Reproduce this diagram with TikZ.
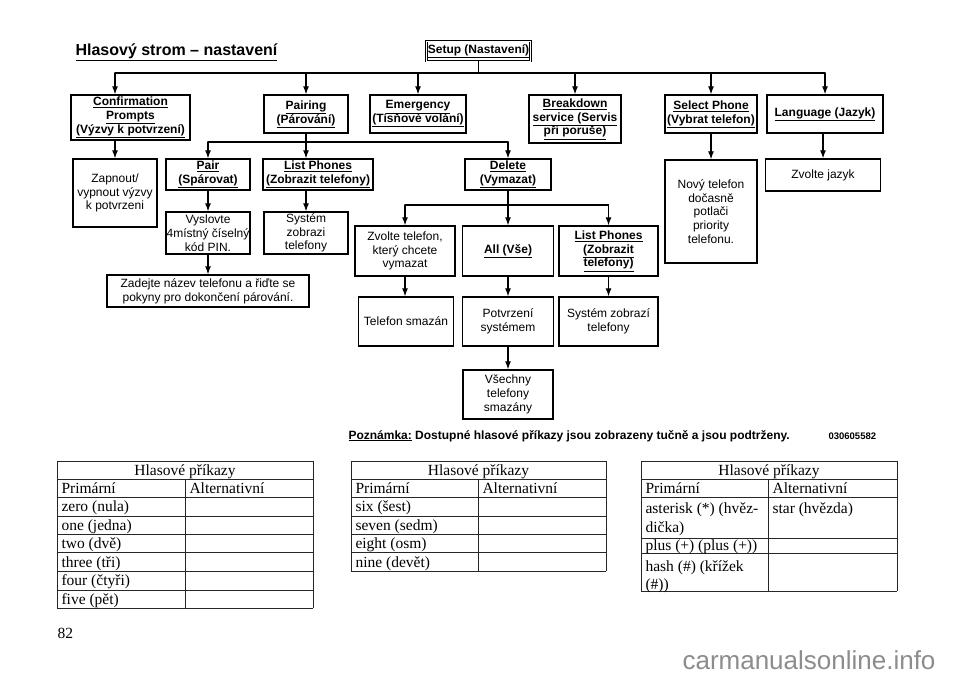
\documentclass[tikz,border=0pt]{standalone}
\usepackage{fontspec}
\newfontfamily\arialfont{Liberation Sans}
\newfontfamily\tablefont{Liberation Serif}
\usetikzlibrary{arrows.meta}

\begin{document}
\begin{tikzpicture}[%
        x = 1pt, y = -1pt,
        line width = 1.1pt,
        line cap = round,
        box/.style = {draw, line width = 1.4pt, line cap = butt, align = center,
            inner sep = 0pt, font = \arialfont\fontsize{12}{13.8}\selectfont},
        cmd/.style = {box, font = \arialfont\bfseries\fontsize{12}{13.8}\selectfont},
        link/.style = {-{Latex[length = 8pt, width = 6pt]}},
        cell/.style = {anchor = base west, inner sep = 0pt,
            font = \tablefont\fontsize{15.5}{19}\selectfont},
        rule/.style = {line width = 0.8pt, line cap = butt, black!85}
    ]
        \useasboundingbox (0, 0) rectangle (960, 678);

        % Title of the page.
        \node[anchor = base west, inner sep = 0pt,
            font = \arialfont\bfseries\fontsize{16}{18}\selectfont]
            (Title) at (75, 55) {\underline{Hlasový strom – nastavení}};

        % Root of the tree.
        \node[cmd, double, double distance = 1pt, line width = 0.6pt,
            minimum width = 104, minimum height = 20]
            (Setup) at (478.5, 51) {\underline{Setup (Nastavení)}};

        % First level of commands.
        \node[cmd, minimum width = 119, minimum height = 45] (Confirm) at (130.5, 117.5)
            {\underline{Confirmation}\\\underline{Prompts}\\\underline{(Výzvy k potvrzení)}};
        \node[cmd, minimum width = 84, minimum height = 38] (Pairing) at (306, 114)
            {\underline{Pairing}\\\underline{(Párování)}};
        \node[cmd, minimum width = 96, minimum height = 38] (Emergency) at (418, 114)
            {\underline{Emergency}\\\underline{(Tísňové volání)}};
        \node[cmd, minimum width = 92, minimum height = 48] (Breakdown) at (575, 119)
            {\underline{Breakdown}\\\underline{service (Servis}\\\underline{při poruše)}};
        \node[cmd, minimum width = 92, minimum height = 38] (Select) at (711, 114)
            {\underline{Select Phone}\\\underline{(Vybrat telefon)}};
        \node[cmd, minimum width = 116, minimum height = 38] (Language) at (825, 114)
            {\underline{Language (Jazyk)}};

        % Second level.
        \node[box, minimum width = 84, minimum height = 68] (Zapnout) at (115, 193)
            {Zapnout/\\vypnout výzvy\\k potvrzeni};
        \node[cmd, minimum width = 84, minimum height = 31] (Pair) at (208, 174.5)
            {\underline{Pair}\\\underline{(Spárovat)}};
        \node[cmd, minimum width = 110, minimum height = 31] (List_Phones) at (318, 174.5)
            {\underline{List Phones}\\\underline{(Zobrazit telefony)}};
        \node[cmd, minimum width = 86, minimum height = 31] (Delete) at (508, 174.5)
            {\underline{Delete}\\\underline{(Vymazat)}};
        \node[box, minimum width = 92, minimum height = 103] (New_Phone) at (711, 211.5)
            {Nový telefon\\dočasně\\potlači\\priority\\telefonu.};
        \node[box, minimum width = 115, minimum height = 32] (Choose_Lang) at (823, 175)
            {Zvolte jazyk};

        % Pairing branch.
        \node[box, minimum width = 84, minimum height = 42] (Say_PIN) at (208, 233)
            {Vyslovte\\4místný číselný\\kód PIN.};
        \node[box, minimum width = 84, minimum height = 42] (Shows_List) at (306, 233)
            {Systém\\zobrazi\\telefony};
        \node[box, minimum width = 202, minimum height = 32] (Enter_Name) at (208, 291)
            {Zadejte název telefonu a řiďte se\\pokyny pro dokončení párování.};

        % Delete branch.
        \node[box, minimum width = 100, minimum height = 50] (Choose_Phone) at (405, 251)
            {Zvolte telefon,\\který chcete\\vymazat};
        \node[cmd, minimum width = 91, minimum height = 50] (All) at (508, 251)
            {\underline{All (Vše)}};
        \node[cmd, minimum width = 99, minimum height = 50] (List_Del) at (608.5, 251)
            {\underline{List Phones}\\\underline{(Zobrazit}\\\underline{telefony)}};
        \node[box, minimum width = 95, minimum height = 49] (Deleted) at (406, 321.5)
            {Telefon smazán};
        \node[box, minimum width = 91, minimum height = 49] (Confirmed) at (508, 321.5)
            {Potvrzení\\systémem};
        \node[box, minimum width = 99, minimum height = 49] (Shows_Del) at (608.5, 321.5)
            {Systém zobrazí\\telefony};
        \node[box, minimum width = 90, minimum height = 49] (All_Deleted) at (508, 394.5)
            {Všechny\\telefony\\smazány};

        % Bus lines of the tree.
        \coordinate (Top_Bus) at (478.5, 73);
        \coordinate (Pair_Bus) at (306, 142);
        \coordinate (Delete_Bus) at (508, 205);

        % Connectors from the root.
        \draw (Setup) -- (Top_Bus);
        \draw (Top_Bus -| Zapnout) -- (Top_Bus -| Language);
        \draw[link] (Top_Bus -| Zapnout) -- (Confirm.north -| Zapnout);
        \draw[link] (Top_Bus -| Pairing) -- (Pairing.north);
        \draw[link] (Top_Bus -| Emergency) -- (Emergency.north);
        \draw[link] (Top_Bus -| Breakdown) -- (Breakdown.north);
        \draw[link] (Top_Bus -| Select) -- (Select.north);
        \draw[link] (Top_Bus -| Language) -- (Language.north);

        % Connectors below the first level.
        \draw[link] (Confirm.south -| Zapnout) -- (Zapnout.north);
        \draw[link] (Select) -- (New_Phone);
        \draw[link] (Language.south -| Choose_Lang) -- (Choose_Lang.north);

        % Pairing branch.
        \draw (Pairing) -- (Pair_Bus);
        \draw (Pair_Bus -| Pair) -- (Pair_Bus -| Delete);
        \draw[link] (Pair_Bus -| Pair) -- (Pair.north);
        \draw[link] (Pair_Bus -| Shows_List) -- (List_Phones.north -| Shows_List);
        \draw[link] (Pair_Bus -| Delete) -- (Delete.north);
        \draw[link] (Pair) -- (Say_PIN);
        \draw[link] (List_Phones.south -| Shows_List) -- (Shows_List.north);
        \draw[link] (Say_PIN) -- (Enter_Name);

        % Delete branch.
        \draw (Delete) -- (Delete_Bus);
        \draw (Delete_Bus -| Choose_Phone) -- (Delete_Bus -| List_Del);
        \draw[link] (Delete_Bus -| Choose_Phone) -- (Choose_Phone.north);
        \draw[link] (Delete_Bus) -- (All.north);
        \draw[link] (Delete_Bus -| List_Del) -- (List_Del.north);
        \draw[link] (Choose_Phone.south) -- (Deleted.north -| Choose_Phone);
        \draw[link] (All) -- (Confirmed);
        \draw[link] (List_Del) -- (Shows_Del);
        \draw[link] (Confirmed) -- (All_Deleted);

        % Note below the tree.
        \node[anchor = base west, inner sep = 0pt,
            font = \arialfont\bfseries\fontsize{12}{13}\selectfont]
            (Note) at (348, 439)
            {\underline{Poznámka:} Dostupné hlasové příkazy jsou zobrazeny tučně a jsou podtrženy.};
        \node[anchor = base west, inner sep = 0pt,
            font = \arialfont\bfseries\fontsize{9.5}{10}\selectfont]
            (Code) at (828, 439) {030605582};

        % First table: digits zero to five.
        \foreach \y in {461, 479, 497, 516, 534, 552, 571, 590, 608}
            \draw[rule] (57, \y) -- (313, \y);
        \draw[rule] (57, 461) -- (57, 608);
        \draw[rule] (313, 461) -- (313, 608);
        \draw[rule] (185, 479) -- (185, 608);
        \node[cell, anchor = base] (Tab1_Head) at (185, 475) {Hlasové příkazy};
        \node[cell] (Tab1_Prim) at (61, 493) {Primární};
        \node[cell] (Tab1_Alt) at (189, 493) {Alternativní};
        \foreach \word [count = \i] in {zero (nula), one (jedna), two (dvě),
                three (tři), four (čtyři), five (pět)}
            \node[cell] (Tab1_Row\i) at (61, 493 + 18.5*\i) {\word};

        % Second table: digits six to nine.
        \foreach \y in {461, 479, 497, 516, 534, 552, 571}
            \draw[rule] (351, \y) -- (606, \y);
        \draw[rule] (351, 461) -- (351, 571);
        \draw[rule] (606, 461) -- (606, 571);
        \draw[rule] (478, 479) -- (478, 571);
        \node[cell, anchor = base] (Tab2_Head) at (478.5, 475) {Hlasové příkazy};
        \node[cell] (Tab2_Prim) at (355, 493) {Primární};
        \node[cell] (Tab2_Alt) at (482, 493) {Alternativní};
        \foreach \word [count = \i] in {six (šest), seven (sedm), eight (osm), nine (devět)}
            \node[cell] (Tab2_Row\i) at (355, 493 + 18.5*\i) {\word};

        % Third table: symbols.
        \foreach \y in {461, 479, 497, 538, 553, 591}
            \draw[rule] (641, \y) -- (897, \y);
        \draw[rule] (641, 461) -- (641, 591);
        \draw[rule] (897, 461) -- (897, 591);
        \draw[rule] (768, 479) -- (768, 591);
        \node[cell, anchor = base] (Tab3_Head) at (769, 475) {Hlasové příkazy};
        \node[cell] (Tab3_Prim) at (645, 493) {Primární};
        \node[cell] (Tab3_Alt) at (772, 493) {Alternativní};
        \node[cell] (Tab3_Star) at (645, 513) {asterisk (*) (hvěz-};
        \node[cell] (Tab3_StarB) at (645, 532) {dička)};
        \node[cell] (Tab3_StarAlt) at (772, 513) {star (hvězda)};
        \node[cell] (Tab3_Plus) at (645, 550) {plus (+) (plus (+))};
        \node[cell] (Tab3_Hash) at (645, 571) {hash (\#) (křížek};
        \node[cell] (Tab3_HashB) at (645, 589) {(\#))};

        % Page number and watermark.
        \node[cell] (Page) at (57, 638) {82};
        \node[anchor = base west, inner sep = 0pt, text = black!45,
            font = \arialfont\fontsize{26}{28}\selectfont]
            (Mark) at (682, 669) {carmanualsonline.info};
    \end{tikzpicture}
\end{document}
